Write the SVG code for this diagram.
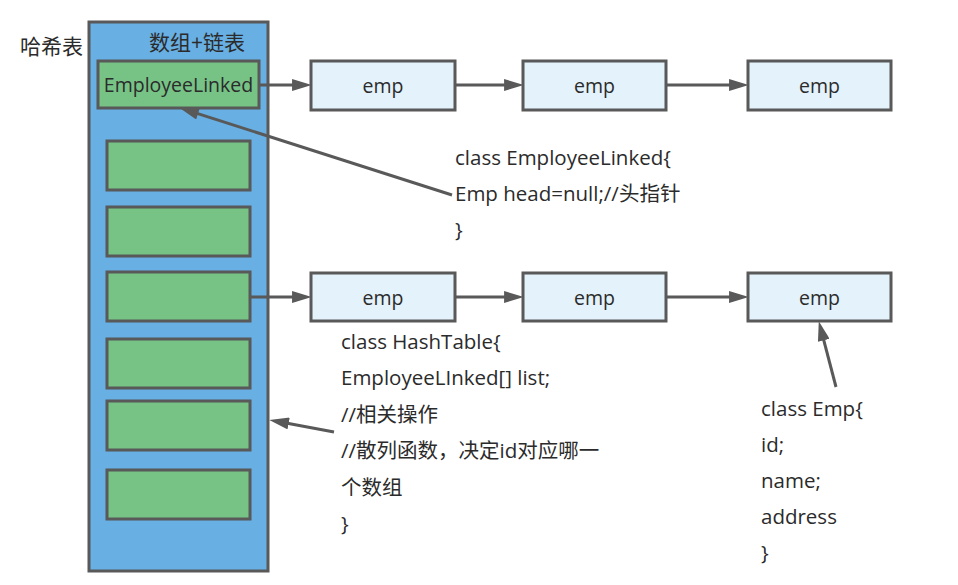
<svg xmlns="http://www.w3.org/2000/svg" width="958" height="585" viewBox="0 0 958 585">
<style>
text{font-family:"Open Sans","Noto Sans CJK SC",sans-serif;font-size:20.5px;fill:#2b2b2b}
.c{text-anchor:middle;font-size:19.5px}
.outer{fill:#68AFE3;stroke:#595959;stroke-width:3}
.slot{fill:#77C386;stroke:#595959;stroke-width:3}
.emp{fill:#E4F2FB;stroke:#595959;stroke-width:3}
.ln{stroke:#595959;stroke-width:3;fill:none;marker-end:url(#ah)}
</style>
<defs>
<marker id="ah" markerUnits="userSpaceOnUse" markerWidth="20" markerHeight="12" refX="10" refY="5.5" orient="auto" viewBox="0 0 18 11">
<path d="M0,0 L18,5.5 L0,11 z" fill="#595959"/>
</marker>
</defs>
<rect width="958" height="585" fill="#ffffff"/>
<text x="20" y="54" style="font-size:21px">哈希表</text>
<g id="hashtable">
<rect class="outer" x="89" y="22" width="179" height="549"/>
<text x="149" y="50" style="font-size:21px">数组+链表</text>
</g>
<g id="slot0"><rect class="slot" x="98" y="61" width="161" height="47"/><text class="c" x="178.5" y="92">EmployeeLinked</text></g>
<g id="slot1"><rect class="slot" x="107" y="141" width="143" height="49"/></g>
<g id="slot2"><rect class="slot" x="107" y="207" width="143" height="49"/></g>
<g id="slot3"><rect class="slot" x="107" y="272" width="143" height="49"/></g>
<g id="slot4"><rect class="slot" x="107" y="339" width="143" height="49"/></g>
<g id="slot5"><rect class="slot" x="107" y="401" width="143" height="49"/></g>
<g id="slot6"><rect class="slot" x="107" y="470" width="143" height="49"/></g>
<g id="emp1"><rect class="emp" x="311" y="61" width="144" height="49"/><text class="c" x="383" y="93">emp</text></g>
<g id="emp2"><rect class="emp" x="523" y="61" width="143" height="49"/><text class="c" x="594.5" y="93">emp</text></g>
<g id="emp3"><rect class="emp" x="748" y="61" width="143" height="49"/><text class="c" x="819.5" y="93">emp</text></g>
<g id="emp4"><rect class="emp" x="311" y="273" width="144" height="48"/><text class="c" x="383" y="305">emp</text></g>
<g id="emp5"><rect class="emp" x="523" y="273" width="143" height="48"/><text class="c" x="594.5" y="305">emp</text></g>
<g id="emp6"><rect class="emp" x="748" y="273" width="143" height="48"/><text class="c" x="819.5" y="305">emp</text></g>
<g id="note-linked">
<text x="455" y="165">class EmployeeLinked{</text>
<text x="455" y="201">Emp head=null;//头指针</text>
<text x="455" y="237">}</text>
</g>
<g id="note-hashtable">
<text x="341" y="349">class HashTable{</text>
<text x="341" y="385">EmployeeLInked[] list;</text>
<text x="341" y="422">//相关操作</text>
<text x="341" y="458">//散列函数，决定id对应哪一</text>
<text x="341" y="495">个数组</text>
<text x="341" y="531">}</text>
</g>
<g id="note-emp">
<text x="761" y="416">class Emp{</text>
<text x="761" y="452">id;</text>
<text x="761" y="488">name;</text>
<text x="761" y="524">address</text>
<text x="761" y="560">}</text>
</g>
<g id="connectors">
<line class="ln" x1="259" y1="85" x2="303" y2="85"/>
<line class="ln" x1="455" y1="85" x2="515" y2="85"/>
<line class="ln" x1="666" y1="85" x2="740" y2="85"/>
<line class="ln" x1="250" y1="297" x2="303" y2="297"/>
<line class="ln" x1="455" y1="297" x2="515" y2="297"/>
<line class="ln" x1="666" y1="297" x2="740" y2="297"/>
<line class="ln" x1="452" y1="195" x2="187.6" y2="110.4"/>
<line class="ln" x1="334" y1="432" x2="277.9" y2="421.5"/>
<line class="ln" x1="836" y1="387" x2="821" y2="329.7"/>
</g>
</svg>
